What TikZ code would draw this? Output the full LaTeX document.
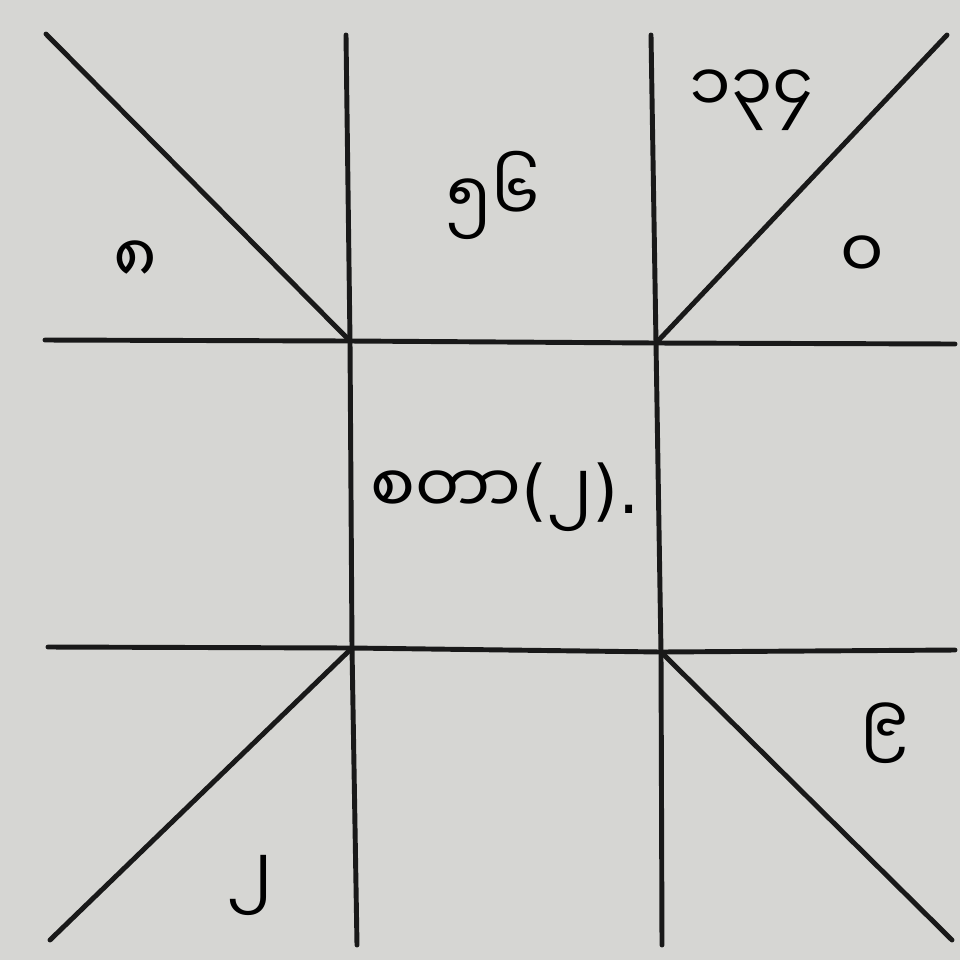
\documentclass[tikz,border=0pt]{standalone}
\usepackage{fontspec}
\setmainfont{DejaVu Sans}
\newfontfamily\mmfont[Script=Myanmar]{Noto Sans Myanmar UI}
\definecolor{paper}{RGB}{214,214,211}
\begin{document}
\begin{tikzpicture}[x=0.01cm, y=-0.01cm, line join=round, line cap=round, every node/.style={font=\mmfont\fontsize{19}{23}\selectfont}, grid line/.style={line width=1.4pt, black!90}]
			
			\fill[paper] (0,0) rectangle (960,960);
			\useasboundingbox (0,0) rectangle (960,960);
			
			% corners of the middle square
			\coordinate (tl) at (350,341);
			\coordinate (tr) at (656,343);
			\coordinate (bl) at (352,648);
			\coordinate (br) at (661,652);
			
			% ends of the lines
			\coordinate (vlt) at (346,35);
			\coordinate (vlb) at (357,945);
			\coordinate (vrt) at (651,35);
			\coordinate (vrb) at (662,945);
			\coordinate (hul) at (45,340);
			\coordinate (hur) at (955,344);
			\coordinate (hdl) at (48,647);
			\coordinate (hdr) at (955,650);
			\coordinate (dtl) at (46,34);
			\coordinate (dtr) at (947,35);
			\coordinate (dbl) at (50,940);
			\coordinate (dbr) at (952,940);
			
			\draw[grid line] (vlt) -- (tl) -- (bl) -- (vlb);
			\draw[grid line] (vrt) -- (tr) -- (br) -- (vrb);
			\draw[grid line] (hul) -- (tl) -- (tr) -- (hur);
			\draw[grid line] (hdl) -- (bl) -- (br) -- (hdr);
			
			\draw[grid line] (dtl) -- (tl);
			\draw[grid line] (dtr) -- (tr);
			\draw[grid line] (dbl) -- (bl);
			\draw[grid line] (dbr) -- (br);
			
			\node (n8) at (135,262) {၈};
			\node (n56) at (493,195) {၅၆};
			\node (n134) at (752,100) {၁၃၄};
			\node (n0) at (862,257) {၀};
			\node (mid) at (505,497) {စတာ{\normalfont(}၂{\normalfont).}};
			\node (n9) at (885,733) {၉};
			\node (n2) at (250,885) {၂};
			
		\end{tikzpicture}
\end{document}
